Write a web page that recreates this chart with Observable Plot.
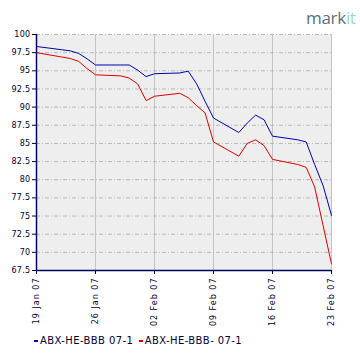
<!DOCTYPE html>
<html><head><meta charset="utf-8">
<script src="https://cdn.jsdelivr.net/npm/d3@7"></script>
<script src="https://cdn.jsdelivr.net/npm/@observablehq/plot@0.6"></script>
<style>
body{margin:0;background:#fff;width:360px;height:360px;overflow:hidden;position:relative;font-family:"DejaVu Sans",sans-serif}
#logo{position:absolute;left:306px;top:6px;font:17px "Open Sans",sans-serif;color:#5b6f80;letter-spacing:-0.3px}
#logo span{color:#9ed3d0}
#legend{position:absolute;left:34px;top:335px;font-size:10px;color:#000033;white-space:nowrap;letter-spacing:0.4px}
#legend i{display:inline-block;width:4px;height:1.5px;vertical-align:middle;margin-right:2px}
#chart{position:absolute;left:0;top:0}
.xax text{letter-spacing:1px}
.yax text{letter-spacing:0.3px}
</style></head>
<body>
<div id="chart"></div>
<div id="logo">mark<span>it</span></div>
<div id="legend"><i style="background:#0000aa"></i>ABX-HE-BBB 07-1 <i style="background:#dd0000;margin-left:2px"></i>ABX-HE-BBB- 07-1</div>
<script>
const dates = ["2007-01-19","2007-01-22","2007-01-23","2007-01-24","2007-01-25","2007-01-26",
"2007-01-29","2007-01-30","2007-01-31","2007-02-01","2007-02-02",
"2007-02-05","2007-02-06","2007-02-07","2007-02-08","2007-02-09",
"2007-02-12","2007-02-13","2007-02-14","2007-02-15","2007-02-16",
"2007-02-19","2007-02-20","2007-02-21","2007-02-22","2007-02-23"];
const bbb = [98.35,97.9,97.75,97.4,96.65,95.8,95.8,95.8,95.1,94.2,94.6,94.7,94.95,93.2,90.8,88.5,86.5,87.8,88.9,88.25,86.0,85.5,85.2,82.1,79.2,75.1];
const bbbMinus = [97.5,96.9,96.7,96.3,95.3,94.45,94.3,94.0,93.2,90.9,91.5,91.9,91.3,90.2,89.2,85.2,83.25,85.0,85.5,84.7,82.8,82.1,81.7,79.0,73.7,68.4];
const seriesNames = ["ABX-HE-BBB 07-1","ABX-HE-BBB- 07-1"];
const xTicks = ["2007-01-19","2007-01-26","2007-02-02","2007-02-09","2007-02-16","2007-02-23"];
const yTicks = [67.5,70,72.5,75,77.5,80,82.5,85,87.5,90,92.5,95,97.5,100];

const parse = d3.utcParse("%Y-%m-%d");
const data = [];
dates.forEach((d,i)=>{
  data.push({date:parse(d), value:bbb[i], s:seriesNames[0]});
  data.push({date:parse(d), value:bbbMinus[i], s:seriesNames[1]});
});
const xt = xTicks.map(parse);
const x0 = parse(dates[0]), x1 = parse(dates[dates.length-1]);
const fmtY = v => String(v);
const ink = "#000033";

const chart = Plot.plot({
  width:360, height:330,
  marginLeft:36, marginRight:29, marginTop:34, marginBottom:60,
  style:{fontFamily:"DejaVu Sans, sans-serif", fontSize:"8px", color:ink, background:"transparent"},
  x:{type:"utc", domain:[x0,x1]},
  y:{domain:[67.5,100]},
  color:{domain:seriesNames, range:["#0000b0","#dd0000"]},
  marks:[
    Plot.frame({fill:"#eeeeee", stroke:null}),
    Plot.gridX(xt,{stroke:"#c4c4c4", strokeOpacity:1}),
    Plot.gridY(yTicks,{stroke:"#b8b8b8", strokeOpacity:1, strokeDasharray:"4,2,1,2"}),
    Plot.axisY(yTicks,{tickFormat:fmtY, tickSize:4, tickPadding:2, stroke:ink, fill:ink, label:null, className:"yax"}),
    Plot.axisX(xt,{tickFormat:d3.utcFormat("%d %b %y"), tickRotate:-90, tickSize:4, tickPadding:3, stroke:ink, fill:ink, label:null, className:"xax"}),
    Plot.line(data,{x:"date", y:"value", z:"s", stroke:"s", strokeWidth:1}),
    Plot.ruleX([x0],{stroke:"#000066", strokeWidth:1.5}),
    Plot.ruleY([67.5],{stroke:"#000066", strokeWidth:1.5})
  ]
});
document.getElementById("chart").append(chart);
</script>
</body></html>
